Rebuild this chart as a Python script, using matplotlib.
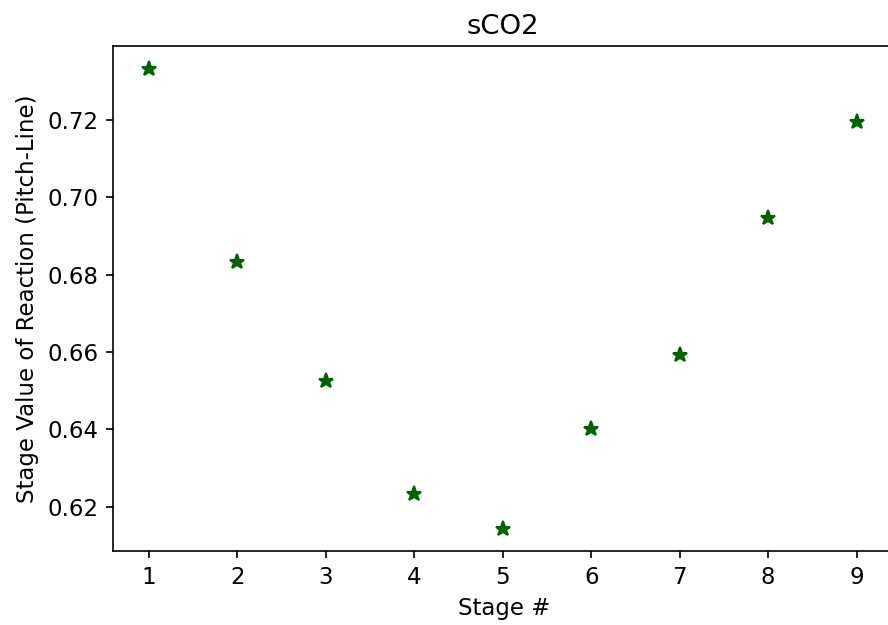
import matplotlib
matplotlib.use("Agg")
import matplotlib.pyplot as plt

stages = [1, 2, 3, 4, 5, 6, 7, 8, 9]
reaction = [0.7332, 0.6833, 0.6526, 0.6234, 0.6143, 0.6402, 0.6593, 0.6947, 0.7195]

plt.rcParams['font.size'] = 11
fig = plt.figure(figsize=(888/150, 625/150), dpi=150)
ax = fig.add_axes([113/888, 1-551/625, (896-113)/888, (551-46)/625])
ax.plot(stages, reaction, '*', color='darkgreen', markersize=7.5)
ax.set_xlim(0.593, 9.445)
ax.set_ylim(0.6086, 0.7391)
ax.set_xticks(stages)
ax.set_yticks([0.62, 0.64, 0.66, 0.68, 0.70, 0.72])
ax.spines['right'].set_visible(False)
ax.set_xlabel('Stage #')
ax.set_ylabel('Stage Value of Reaction (Pitch-Line)')
ax.set_title('sCO2', x=(503-113)/(896-113))
fig.savefig('out.png', dpi=150)
